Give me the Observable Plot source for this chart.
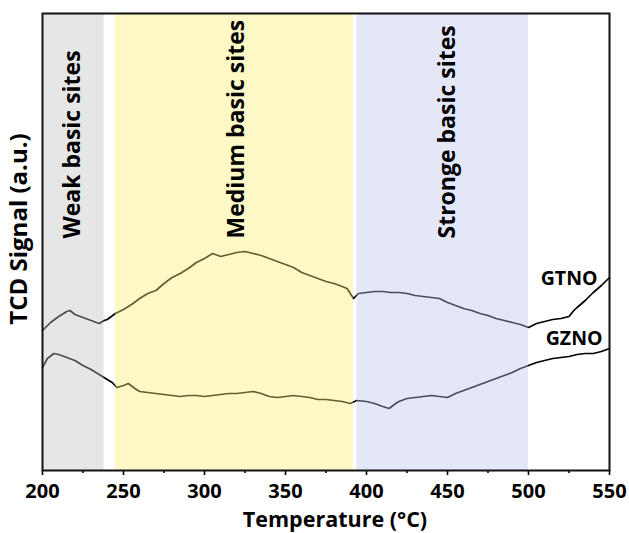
<!DOCTYPE html>
<html>
<head>
<meta charset="utf-8">
<script src="https://cdn.jsdelivr.net/npm/d3@7"></script>
<script src="https://cdn.jsdelivr.net/npm/@observablehq/plot@0.6"></script>
<style>
  html, body { margin: 0; padding: 0; background: #fff; }
  #chart svg { display: block; }
</style>
</head>
<body>
<div id="chart"></div>
<script>
// CO2-TPD traces (TCD signal, arbitrary units) versus temperature
const gtnoTemp = [200,205,210,215,217,220,225,230,235,238,240,245,250,255,260,265,270,275,280,285,290,295,300,305,310,315,320,325,330,335,340,345,350,355,360,365,370,375,380,385,388,392,395,400,405,410,415,420,425,430,435,440,445,450,455,460,465,470,475,480,485,490,495,500,505,510,515,520,525,528,530,535,540,545,550];
const gtnoSignal = [140,148,154,159,160,156,153,150,147,150,151,157,161,166,172,177,180,187,193,197,202,208,212,217,214,216,218,219,217,215,212,209,206,203,198,195,192,189,187,184,182,172,177,178,179,179,178,178,177,175,174,173,172,168,165,162,160,157,155,152,150,148,146,143,147,149,151,152,154,160,163,170,178,185,193];

const gznoTemp = [200,203,207,210,215,220,225,230,235,240,243,246,250,253,257,260,265,270,275,280,285,290,295,300,305,310,315,320,325,330,335,340,345,350,355,360,365,370,375,380,385,390,394,400,405,410,414,418,420,425,430,435,440,445,450,455,460,465,470,475,480,485,490,495,500,505,510,515,520,525,530,535,540,545,550];
const gznoSignal = [103,112,117,116,113,110,105,101,96,91,88,83,85,87,82,79,78,77,76,75,74,75,75,74,75,76,77,77,78,79,77,74,73,74,75,74,73,71,71,70,69,67,70,69,67,64,62,67,69,72,73,74,75,74,73,77,80,83,86,89,92,95,98,102,105,108,110,112,113,114,116,117,117,119,122];

// Basic-site temperature windows
const bandNames = ["Weak basic sites", "Medium basic sites", "Stronge basic sites"];
const bandStart = [200, 245, 394];
const bandEnd = [238, 392, 500];
const bandFill = ["#c0c0c0", "#faed70", "#bbc3ed"];
const bandLabelTemp = [218.5, 320, 450];
const bandLabelSignal = 232;

// Curve labels
const seriesNames = ["GTNO", "GZNO"];
const seriesLabelTemp = [542.6, 545.7];
const seriesLabelSignal = [192, 132];

const xTicks = [200, 250, 300, 350, 400, 450, 500, 550];
const xMinorTicks = [225, 275, 325, 375, 425, 475, 525];

const traces = [
  ...gtnoTemp.map((t, i) => ({sample: "GTNO", temp: t, signal: gtnoSignal[i]})),
  ...gznoTemp.map((t, i) => ({sample: "GZNO", temp: t, signal: gznoSignal[i]}))
];
const bands = bandNames.map((name, i) => ({
  name, start: bandStart[i], end: bandEnd[i], fill: bandFill[i], labelTemp: bandLabelTemp[i]
}));
const seriesLabels = seriesNames.map((name, i) => ({
  name, temp: seriesLabelTemp[i], signal: seriesLabelSignal[i]
}));

const font = "'Open Sans', sans-serif";

const chart = Plot.plot({
  width: 629,
  height: 533,
  marginLeft: 42,
  marginRight: 20,
  marginTop: 13,
  marginBottom: 63,
  style: {fontFamily: font, background: "#fff", color: "#000"},
  x: {domain: [200, 550]},
  y: {domain: [0, 457], axis: null},
  marks: [
    Plot.line(traces, {x: "temp", y: "signal", z: "sample", stroke: "#000", strokeWidth: 1.7, curve: "linear"}),
    // translucent windows laid over the traces
    Plot.rect(bands, {x1: "start", x2: "end", fill: "fill", fillOpacity: 0.4}),
    Plot.text(bands, {
      x: "labelTemp", y: () => bandLabelSignal, text: "name", rotate: -90,
      textAnchor: "start", lineAnchor: "middle",
      fontSize: 23, fontWeight: "bold", fill: "#000"
    }),
    Plot.text(seriesLabels, {
      x: "temp", y: "signal", text: "name", textAnchor: "end", lineAnchor: "middle",
      fontSize: 19.5, fontWeight: "bold", fill: "#000"
    }),
    Plot.axisX({ticks: xMinorTicks, tickSize: 3, text: null, label: null, strokeWidth: 1.6}),
    Plot.axisX({
      ticks: xTicks, tickSize: 5, tickPadding: 8, tickFormat: d3.format("d"),
      fontSize: 20, fontWeight: "bold", label: null, strokeWidth: 1.6
    }),
    Plot.text(["Temperature (°C)"], {
      frameAnchor: "bottom", dy: 56, dx: 9, text: d => d,
      fontSize: 21.5, fontWeight: "bold", fill: "#000"
    }),
    Plot.text(["TCD Signal (a.u.)"], {
      frameAnchor: "left", dx: -23, dy: -13, rotate: -90, textAnchor: "middle", text: d => d,
      fontSize: 24, fontWeight: "bold", fill: "#000"
    }),
    Plot.frame({stroke: "#111", strokeWidth: 2})
  ]
});

document.getElementById("chart").appendChild(chart);
</script>
</body>
</html>
